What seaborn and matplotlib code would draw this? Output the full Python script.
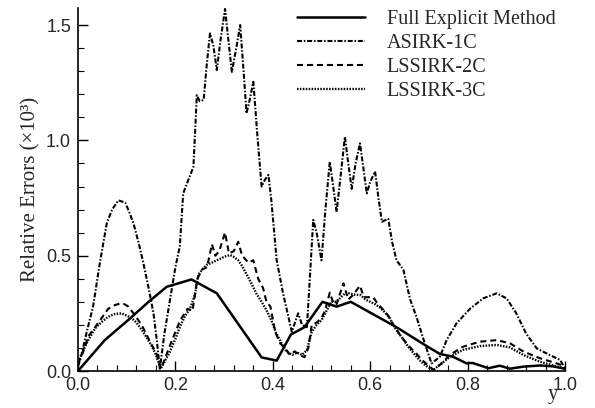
import matplotlib
matplotlib.use("Agg")
import matplotlib.pyplot as plt
import seaborn as sns
import numpy as np
import pandas as pd
from matplotlib.ticker import MultipleLocator

# ---- data ----
y_full = [0.0, 0.055, 0.107, 0.145, 0.182, 0.233, 0.285, 0.333, 0.377, 0.408, 0.437, 0.465,
          0.502, 0.531, 0.56, 0.654, 0.712, 0.743, 0.77, 0.798, 0.81, 0.843, 0.866, 0.887,
          0.915, 0.949, 0.975, 1.0]
err_full = [0.0, 0.134, 0.228, 0.30, 0.365, 0.397, 0.337, 0.192, 0.059, 0.045, 0.158, 0.19,
            0.30, 0.279, 0.30, 0.19, 0.113, 0.074, 0.062, 0.033, 0.035, 0.012, 0.023, 0.01,
            0.019, 0.024, 0.02, 0.01]

y_a1 = [0.0, 0.006, 0.018, 0.031, 0.045, 0.059, 0.07, 0.083, 0.097, 0.105, 0.114, 0.124,
        0.134, 0.145, 0.155, 0.162, 0.168, 0.178, 0.189, 0.2, 0.209, 0.216, 0.225, 0.237,
        0.244, 0.25, 0.258, 0.264, 0.271, 0.278, 0.285, 0.293, 0.302, 0.309, 0.316, 0.325,
        0.333, 0.34, 0.346, 0.353, 0.36, 0.368, 0.377, 0.384, 0.391, 0.397, 0.408, 0.421,
        0.439, 0.452, 0.46, 0.47, 0.476, 0.483, 0.49, 0.5, 0.508, 0.517, 0.524, 0.531,
        0.54, 0.548, 0.555, 0.562, 0.57, 0.579, 0.586, 0.593, 0.6, 0.61, 0.617, 0.624,
        0.637, 0.645, 0.654, 0.668, 0.682, 0.695, 0.712, 0.726, 0.743, 0.757, 0.777, 0.805,
        0.832, 0.86, 0.88, 0.9, 0.92, 0.942, 0.969, 0.99, 1.0]
err_a1 = [0.02, 0.06, 0.17, 0.28, 0.47, 0.64, 0.70, 0.74, 0.73, 0.69, 0.64, 0.56,
          0.47, 0.36, 0.25, 0.13, 0.01, 0.17, 0.31, 0.45, 0.54, 0.77, 0.82, 0.885,
          1.196, 1.17, 1.175, 1.32, 1.464, 1.41, 1.305, 1.44, 1.57, 1.43, 1.297, 1.40,
          1.50, 1.30, 1.117, 1.18, 1.254, 1.03, 0.80, 0.83, 0.85, 0.74, 0.48, 0.337,
          0.17, 0.25, 0.20, 0.19, 0.40, 0.655, 0.60, 0.48, 0.70, 0.907, 0.80, 0.69,
          0.86, 1.016, 0.90, 0.79, 0.90, 0.987, 0.88, 0.77, 0.82, 0.865, 0.75, 0.647,
          0.66, 0.56, 0.48, 0.44, 0.31, 0.235, 0.12, 0.033, 0.062, 0.134, 0.206, 0.27,
          0.315, 0.337, 0.315, 0.25, 0.163, 0.098, 0.069, 0.048, 0.01]

y_l2 = [0.0, 0.01, 0.021, 0.042, 0.062, 0.075, 0.086, 0.095, 0.103, 0.114, 0.124, 0.133,
        0.141, 0.151, 0.161, 0.17, 0.178, 0.185, 0.2, 0.21, 0.225, 0.235, 0.245, 0.255,
        0.265, 0.275, 0.282, 0.29, 0.302, 0.31, 0.32, 0.329, 0.337, 0.35, 0.36, 0.37,
        0.38, 0.387, 0.395, 0.405, 0.415, 0.425, 0.435, 0.445, 0.455, 0.465, 0.473, 0.48,
        0.49, 0.5, 0.507, 0.517, 0.525, 0.531, 0.545, 0.555, 0.565, 0.579, 0.587, 0.6,
        0.606, 0.616, 0.625, 0.637, 0.65, 0.66, 0.671, 0.683, 0.695, 0.705, 0.716, 0.73,
        0.745, 0.764, 0.79, 0.825, 0.86, 0.887, 0.915, 0.949, 0.983, 1.0]
err_l2 = [0.03, 0.08, 0.15, 0.21, 0.27, 0.285, 0.293, 0.29, 0.28, 0.25, 0.22, 0.19,
          0.156, 0.115, 0.076, 0.01, 0.05, 0.09, 0.17, 0.22, 0.27, 0.26, 0.40, 0.44,
          0.45, 0.55, 0.50, 0.52, 0.60, 0.51, 0.52, 0.56, 0.50, 0.47, 0.48, 0.40,
          0.36, 0.30, 0.28, 0.17, 0.12, 0.10, 0.07, 0.085, 0.07, 0.06, 0.10, 0.20,
          0.21, 0.23, 0.26, 0.34, 0.29, 0.29, 0.38, 0.31, 0.33, 0.37, 0.32, 0.32,
          0.32, 0.29, 0.27, 0.24, 0.19, 0.16, 0.13, 0.10, 0.075, 0.05, 0.03, 0.005,
          0.03, 0.07, 0.105, 0.127, 0.134, 0.12, 0.084, 0.055, 0.033, 0.02]

y_l3 = [0.0, 0.02, 0.035, 0.05, 0.062, 0.075, 0.09, 0.1, 0.11, 0.12, 0.131, 0.141,
        0.151, 0.16, 0.17, 0.18, 0.189, 0.2, 0.209, 0.22, 0.23, 0.24, 0.247, 0.255,
        0.264, 0.275, 0.285, 0.3, 0.312, 0.32, 0.329, 0.337, 0.346, 0.356, 0.366, 0.377,
        0.387, 0.397, 0.407, 0.418, 0.428, 0.44, 0.45, 0.46, 0.47, 0.48, 0.49, 0.5,
        0.51, 0.52, 0.53, 0.54, 0.55, 0.56, 0.57, 0.58, 0.59, 0.6, 0.61, 0.62,
        0.63, 0.64, 0.65, 0.66, 0.67, 0.68, 0.69, 0.7, 0.71, 0.72, 0.73, 0.745,
        0.764, 0.79, 0.825, 0.86, 0.887, 0.915, 0.949, 0.983, 1.0]
err_l3 = [0.04, 0.13, 0.185, 0.215, 0.235, 0.247, 0.25, 0.24, 0.23, 0.21, 0.178, 0.145,
          0.11, 0.07, 0.01, 0.05, 0.084, 0.14, 0.19, 0.24, 0.27, 0.33, 0.416, 0.44,
          0.46, 0.47, 0.48, 0.495, 0.503, 0.495, 0.48, 0.455, 0.42, 0.38, 0.337, 0.30,
          0.264, 0.22, 0.163, 0.12, 0.084, 0.07, 0.08, 0.07, 0.09, 0.17, 0.20, 0.22,
          0.26, 0.30, 0.30, 0.32, 0.34, 0.335, 0.33, 0.33, 0.31, 0.30, 0.29, 0.275,
          0.255, 0.23, 0.19, 0.16, 0.13, 0.10, 0.075, 0.05, 0.03, 0.015, 0.005, 0.03,
          0.062, 0.091, 0.108, 0.113, 0.102, 0.069, 0.04, 0.02, 0.01]

labels = ["Full Explicit Method", "ASIRK-1C", "LSSIRK-2C", "LSSIRK-3C"]

# ---- style ----
sns.set_style("ticks")
plt.rcParams["font.family"] = ["Liberation Sans", "DejaVu Sans"]
plt.rcParams["lines.scale_dashes"] = False
serif = ["Liberation Serif", "DejaVu Serif"]

fig = plt.figure(figsize=(5.95, 4.08), dpi=100)
ax = fig.add_axes([78 / 595, 1 - 371 / 408, (565 - 78) / 595, (371 - 8) / 408])

series = [
    (y_full, err_full, labels[0], "-", 1.8),
    (y_a1, err_a1, labels[1], (0, (3.6, 1.3, 1.1, 1.3)), 1.5),
    (y_l2, err_l2, labels[2], (0, (4.3, 2.9)), 1.5),
    (y_l3, err_l3, labels[3], (0, (1.1, 1.0)), 1.7),
]
for xs, ys, lab, ls, lw in series:
    df = pd.DataFrame({"y": xs, "err": ys})
    sns.lineplot(data=df, x="y", y="err", ax=ax, color="black", linestyle=ls,
                 linewidth=lw, label=lab, sort=False, estimator=None)

ax.set_xlim(0, 1.0)
ax.set_ylim(0, 1.574)
ax.xaxis.set_major_locator(MultipleLocator(0.2))
ax.xaxis.set_minor_locator(MultipleLocator(0.04))
ax.yaxis.set_major_locator(MultipleLocator(0.5))
ax.yaxis.set_minor_locator(MultipleLocator(0.1))
ax.xaxis.set_major_formatter(matplotlib.ticker.FormatStrFormatter("%.1f"))
ax.yaxis.set_major_formatter(matplotlib.ticker.FormatStrFormatter("%.1f"))
ax.tick_params(which="both", direction="in", top=False, right=False, color="black")
ax.tick_params(which="major", length=7, width=1, labelsize=13)
ax.tick_params(axis="y", which="major", pad=5)
ax.tick_params(axis="x", which="major", pad=4)
ax.tick_params(which="minor", length=4, width=0.8)
for s in ["left", "bottom"]:
    ax.spines[s].set_linewidth(1.2)
    ax.spines[s].set_color("black")
sns.despine(ax=ax)

ax.set_xlabel("")
ax.set_ylabel("Relative Errors (×10³)", family=serif, fontsize=15, labelpad=4)
fig.text(553 / 595, 1 - 399 / 408, "y", family=serif, fontsize=15, ha="center", va="baseline")

leg = ax.legend(loc="upper left", bbox_to_anchor=(297 / 595, 1 - 10 / 408),
                bbox_transform=fig.transFigure, frameon=False, borderpad=0,
                borderaxespad=0, handlelength=3.4, handletextpad=1.05,
                labelspacing=0.25, prop={"family": serif, "size": 14.5})

fig.savefig("out.png", dpi=100)
